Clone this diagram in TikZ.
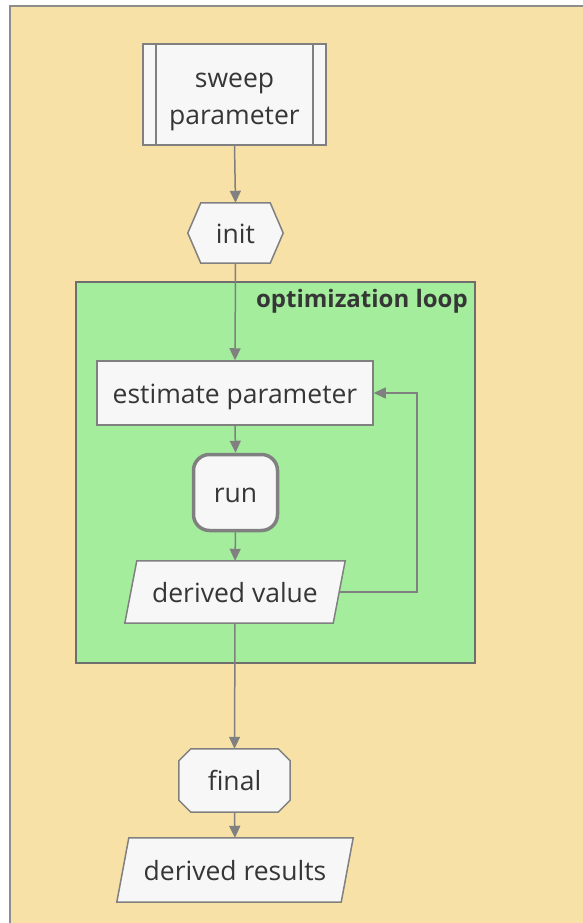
\documentclass[tikz,border=0pt]{standalone}
\usepackage{fontspec}
\setmainfont{Open Sans}
\usetikzlibrary{arrows.meta,calc}
\definecolor{bgorange}{HTML}{F8E1A7}
\definecolor{grpgreen}{HTML}{A3ED9D}
\definecolor{nodefill}{HTML}{F7F7F7}
\definecolor{linec}{HTML}{808080}
\definecolor{textc}{HTML}{363636}
\definecolor{grpborder}{HTML}{6E6E6E}
\pgfdeclarelayer{back}
\pgfdeclarelayer{shapes}
\pgfsetlayers{back,shapes,main}
\tikzset{
  txt/.style={font=\fontsize{26.5}{37}\selectfont, text=textc, inner sep=0pt},
  oneline/.style={txt, text height=20pt, text depth=0pt},
  outline/.style={draw=linec, line width=1.5pt, fill=nodefill},
  conn/.style={draw=linec, line width=1.5pt, -{Triangle[length=12pt,width=11pt]}},
}
\begin{document}
\begin{tikzpicture}[x=1pt,y=-1pt]
\useasboundingbox (0,0) rectangle (583,923);
% nodes
\node[txt, minimum width=183pt, minimum height=101pt, align=center] (sweep) at (234.5,102) {sweep\\parameter};
\node[oneline, minimum width=95pt, minimum height=60pt] (init) at (235.5,233) {init};
\node[oneline, outline, minimum width=276pt, minimum height=64pt] (est) at (235,393) {estimate parameter};
\node[oneline, draw=linec, line width=3.5pt, fill=nodefill, rounded corners=16pt, minimum width=84pt, minimum height=76pt] (run) at (235.5,492.5) {run};
\node[oneline, minimum width=220pt, minimum height=62pt] (dv) at (235,592) {derived value};
\node[oneline, minimum width=111pt, minimum height=63pt] (final) at (234.5,780.5) {final};
\node[oneline, minimum width=236pt, minimum height=64pt] (dr) at (235,870) {derived results};
\node[font=\fontsize{24}{28}\selectfont\bfseries, text=textc, anchor=base east, inner sep=0pt] (grplabel) at (468,307) {optimization loop};

\begin{pgfonlayer}{back}
  \fill[bgorange] (10,6) rectangle (583,923);
  \draw[draw=linec!90, line width=2pt] (10,923) -- (10,6) -- (583,6);
  \draw[fill=grpgreen, draw=grpborder, line width=1.5pt] (76,282) rectangle (475,663);
\end{pgfonlayer}

\begin{pgfonlayer}{shapes}
  % subroutine box (text node is shifted 7.5pt down inside it)
  \path[outline] ([yshift=7.5pt]sweep.north west) rectangle ([yshift=7.5pt]sweep.south east);
  % hexagon init
  \path[outline] (init.west) -- ([xshift=13pt]init.north west) -- ([xshift=-13pt]init.north east)
    -- (init.east) -- ([xshift=-13pt]init.south east) -- ([xshift=13pt]init.south west) -- cycle;
  % octagon final
  \path[outline] ([xshift=12pt]final.north west) -- ([xshift=-12pt]final.north east)
    -- ([yshift=-12pt]final.north east) -- ([yshift=12pt]final.south east)
    -- ([xshift=-12pt]final.south east) -- ([xshift=12pt]final.south west)
    -- ([yshift=12pt]final.south west) -- ([yshift=-12pt]final.north west) -- cycle;
  % parallelograms
  \path[outline] ([xshift=12pt]dv.north west) -- (dv.north east) -- ([xshift=-12pt]dv.south east) -- (dv.south west) -- cycle;
  \path[outline] ([xshift=12pt]dr.north west) -- (dr.north east) -- ([xshift=-12pt]dr.south east) -- (dr.south west) -- cycle;
\end{pgfonlayer}
% subroutine inner lines
\draw[linec, line width=1.5pt] ([xshift=13pt,yshift=7.5pt]sweep.north west) -- ([xshift=13pt,yshift=7.5pt]sweep.south west);
\draw[linec, line width=1.5pt] ([xshift=-13pt,yshift=7.5pt]sweep.north east) -- ([xshift=-13pt,yshift=7.5pt]sweep.south east);

% connectors
\draw[conn] ([yshift=7.5pt]sweep.south) -- (init.north);
\draw[conn] (init.south) -- (est.north);
\draw[conn] (est.south) -- (run.north);
\draw[conn] (run.south) -- (dv.north);
\draw[conn] (dv.south) -- (final.north);
\draw[conn] (final.south) -- (dr.north);
\coordinate (fbstart) at ($(dv.east)+(-6,0)$);
\coordinate (fbx) at (417,0);
\draw[conn] (fbstart) -- (fbstart -| fbx) |- (est.east);
\end{tikzpicture}
\end{document}
